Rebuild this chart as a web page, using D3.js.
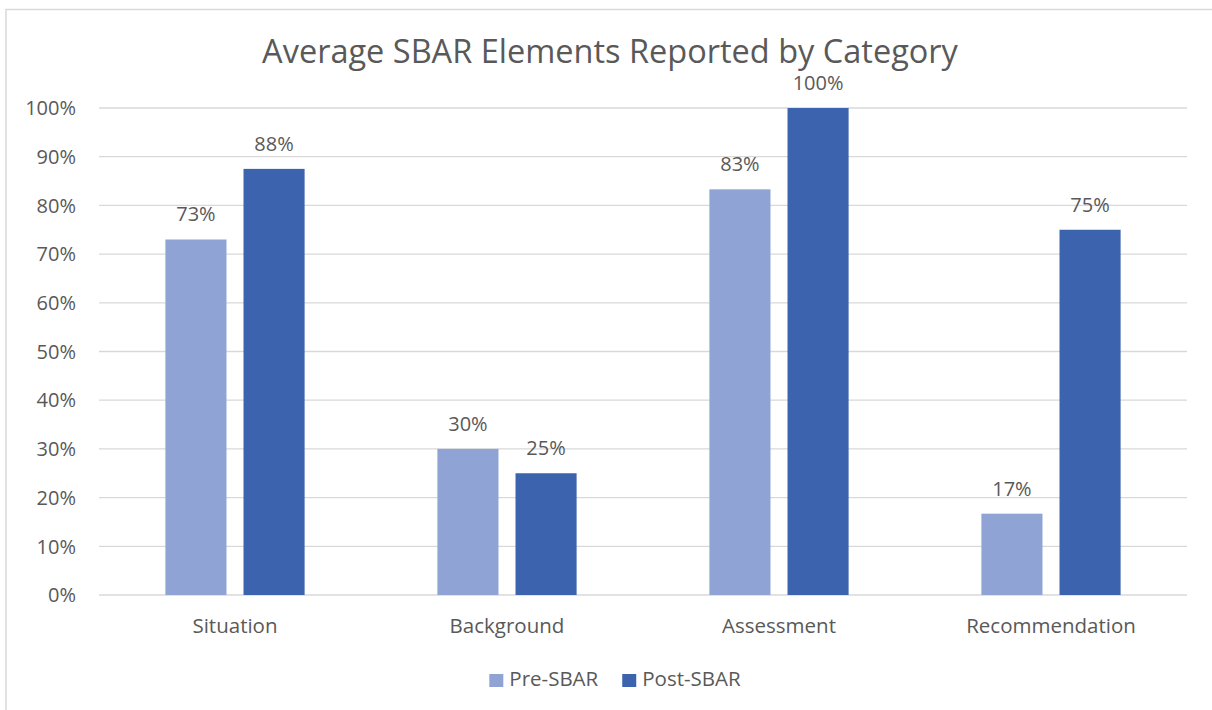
<!DOCTYPE html>
<html>
<head>
<meta charset="utf-8">
<script src="https://cdn.jsdelivr.net/npm/d3@7"></script>
<style>
  html, body { margin: 0; padding: 0; background: #ffffff; }
  svg { display: block; font-family: "Open Sans", "Liberation Sans", sans-serif; }
</style>
</head>
<body>
<div id="chart"></div>
<script>
// Data
const categories = ["Situation", "Background", "Assessment", "Recommendation"];
const seriesNames = ["Pre-SBAR", "Post-SBAR"];
const preValues = [0.73, 0.30, 0.833, 0.167];
const postValues = [0.875, 0.25, 1.0, 0.75];
const dataLabelsPre = ["73%", "30%", "83%", "17%"];
const dataLabelsPost = ["88%", "25%", "100%", "75%"];
const yTicks = [0, 0.1, 0.2, 0.3, 0.4, 0.5, 0.6, 0.7, 0.8, 0.9, 1.0];

const COLORS = { pre: "#8FA3D5", post: "#3C63AD", text: "#595959", grid: "#D9D9D9", border: "#D9D9D9" };

const width = 1212, height = 710;
const plot = { left: 99, right: 1187, top: 108, bottom: 595 };

const svg = d3.select("#chart").append("svg")
  .attr("width", width)
  .attr("height", height);

// chart-area border (top and left edges visible)
svg.append("path")
  .attr("d", `M6,${height} L6,9.5 L${width},9.5`)
  .attr("fill", "none")
  .attr("stroke", COLORS.border)
  .attr("stroke-width", 1.5);

// title
svg.append("text")
  .attr("x", 610)
  .attr("y", 63)
  .attr("text-anchor", "middle")
  .attr("font-size", 32.5)
  .attr("fill", COLORS.text)
  .text("Average SBAR Elements Reported by Category");

const y = d3.scaleLinear().domain([0, 1]).range([plot.bottom, plot.top]);
const x0 = d3.scaleBand().domain(categories).range([plot.left, plot.right]);
const x1 = d3.scaleBand().domain(seriesNames).range([0, x0.bandwidth()])
  .paddingInner(0.218).paddingOuter(0.85);

// gridlines
svg.append("g")
  .selectAll("line")
  .data(yTicks)
  .join("line")
  .attr("x1", plot.left)
  .attr("x2", plot.right)
  .attr("y1", (d) => y(d))
  .attr("y2", (d) => y(d))
  .attr("stroke", COLORS.grid)
  .attr("stroke-width", 1.3);

// y axis labels
svg.append("g")
  .selectAll("text")
  .data(yTicks)
  .join("text")
  .attr("x", 76)
  .attr("y", (d) => y(d))
  .attr("dy", "0.36em")
  .attr("text-anchor", "end")
  .attr("font-size", 20)
  .attr("fill", COLORS.text)
  .text((d) => d3.format(".0%")(d));

const rows = categories.map((c, i) => ({
  category: c,
  values: [
    { series: seriesNames[0], value: preValues[i], label: dataLabelsPre[i], color: COLORS.pre },
    { series: seriesNames[1], value: postValues[i], label: dataLabelsPost[i], color: COLORS.post },
  ],
}));

const groups = svg.append("g")
  .selectAll("g")
  .data(rows)
  .join("g")
  .attr("transform", (d) => `translate(${x0(d.category)},0)`);

groups.selectAll("rect")
  .data((d) => d.values)
  .join("rect")
  .attr("x", (d) => x1(d.series))
  .attr("width", x1.bandwidth())
  .attr("y", (d) => y(d.value))
  .attr("height", (d) => y(0) - y(d.value))
  .attr("fill", (d) => d.color);

groups.selectAll("text")
  .data((d) => d.values)
  .join("text")
  .attr("x", (d) => x1(d.series) + x1.bandwidth() / 2)
  .attr("y", (d) => y(d.value) - 18)
  .attr("text-anchor", "middle")
  .attr("font-size", 20)
  .attr("fill", COLORS.text)
  .text((d) => d.label);

// category labels
svg.append("g")
  .selectAll("text")
  .data(categories)
  .join("text")
  .attr("x", (d) => x0(d) + x0.bandwidth() / 2)
  .attr("y", 633)
  .attr("text-anchor", "middle")
  .attr("font-size", 20.5)
  .attr("fill", COLORS.text)
  .text((d) => d);

// legend
const legend = svg.append("g");
const legendItems = [
  { name: seriesNames[0], color: COLORS.pre },
  { name: seriesNames[1], color: COLORS.post },
];
let cursor = 0;
legendItems.forEach((item) => {
  const g = legend.append("g").attr("transform", `translate(${cursor},0)`);
  g.append("rect")
    .attr("x", 0)
    .attr("y", -12)
    .attr("width", 14)
    .attr("height", 13)
    .attr("fill", item.color);
  const t = g.append("text")
    .attr("x", 20)
    .attr("y", 0)
    .attr("font-size", 20.5)
    .attr("fill", COLORS.text)
    .text(item.name);
  cursor += 20 + t.node().getComputedTextLength() + 24;
});
const legendWidth = cursor - 24;
legend.attr("transform", `translate(${615 - legendWidth / 2},686)`);
</script>
</body>
</html>
